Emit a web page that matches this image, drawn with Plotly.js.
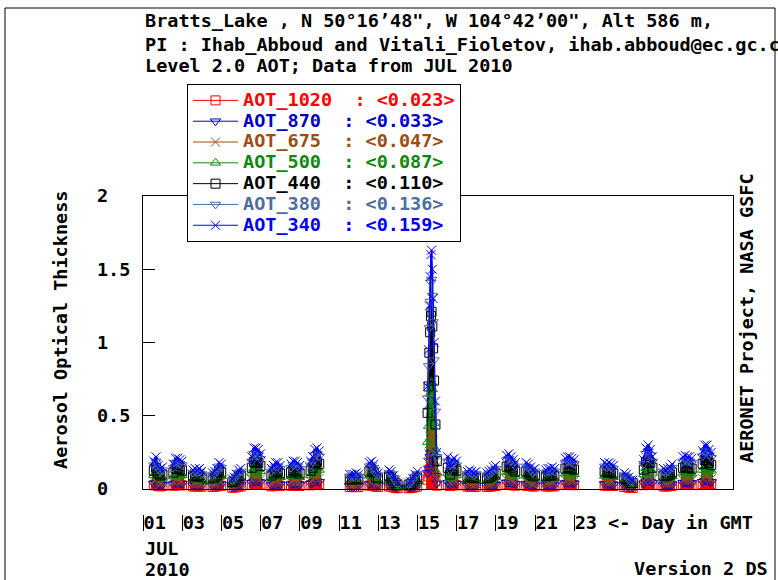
<!DOCTYPE html>
<html>
<head>
<meta charset="utf-8">
<script src="https://cdn.plot.ly/plotly-3.0.1.min.js"></script>
<style>
  html, body { margin: 0; padding: 0; background: #fff; }
  #chart { width: 778px; height: 580px; }
  /* legend rows are laid out with a small font size, glyphs drawn larger */
  .legendtext { font-size: 18.5px !important; }
</style>
</head>
<body>
<div id="chart"></div>
<script>
// Bratts_Lake AERONET Level 2.0 AOT, July 2010.
// Every observation day has one value per measurement time; the times are
// the day number plus the fractional GMT offsets below.
const obsDays = [1, 2, 3, 4, 5, 6, 7, 8, 9, 11, 12, 13, 14, 15, 16, 17, 18, 19, 20, 21, 22, 24, 25, 26, 27, 28, 29];
const dayOffsets = [0.55, 0.66, 0.77, 0.88, 0.99];
const jul15Offsets = [0.52, 0.57, 0.61, 0.65, 0.69, 0.72, 0.76, 0.80, 0.85, 0.92, 0.99];

const aot340 = [
  [0.19, 0.22, 0.16, 0.14, 0.15],
  [0.17, 0.21, 0.21, 0.20, 0.19],
  [0.13, 0.14, 0.13, 0.14, 0.12],
  [0.11, 0.12, 0.14, 0.18, 0.17],
  [0.07, 0.08, 0.10, 0.13, 0.14],
  [0.22, 0.28, 0.28, 0.27, 0.24],
  [0.14, 0.16, 0.18, 0.18, 0.16],
  [0.17, 0.19, 0.19, 0.18, 0.16],
  [0.19, 0.22, 0.27, 0.28, 0.26],
  [0.10, 0.10, 0.10, 0.11, 0.10],
  [0.18, 0.19, 0.17, 0.12, 0.11],
  [0.13, 0.12, 0.09, 0.06, 0.04],
  [0.04, 0.05, 0.07, 0.10, 0.12],
  [0.70, 0.95, 1.25, 1.45, 1.60, 1.63, 1.50, 1.30, 1.00, 0.60, 0.25],
  [0.22, 0.15, 0.20, 0.21, 0.19],
  [0.12, 0.13, 0.12, 0.11, 0.12],
  [0.11, 0.12, 0.13, 0.15, 0.16],
  [0.23, 0.24, 0.22, 0.20, 0.18],
  [0.18, 0.17, 0.15, 0.13, 0.14],
  [0.13, 0.14, 0.14, 0.15, 0.14],
  [0.21, 0.22, 0.22, 0.21, 0.20],
  [0.18, 0.17, 0.18, 0.17, 0.16],
  [0.11, 0.10, 0.08, 0.06, 0.06],
  [0.20, 0.28, 0.30, 0.27, 0.22],
  [0.14, 0.13, 0.14, 0.15, 0.17],
  [0.22, 0.23, 0.22, 0.22, 0.21],
  [0.26, 0.30, 0.30, 0.27, 0.25]
];

const aot380 = [
  [0.163, 0.189, 0.138, 0.120, 0.129],
  [0.146, 0.181, 0.181, 0.172, 0.163],
  [0.112, 0.120, 0.112, 0.120, 0.103],
  [0.095, 0.103, 0.120, 0.155, 0.146],
  [0.060, 0.069, 0.086, 0.112, 0.120],
  [0.189, 0.241, 0.241, 0.232, 0.206],
  [0.120, 0.138, 0.155, 0.155, 0.138],
  [0.146, 0.163, 0.163, 0.155, 0.138],
  [0.163, 0.189, 0.232, 0.241, 0.224],
  [0.086, 0.086, 0.086, 0.095, 0.086],
  [0.155, 0.163, 0.146, 0.103, 0.095],
  [0.112, 0.103, 0.077, 0.052, 0.034],
  [0.034, 0.043, 0.060, 0.086, 0.103],
  [0.62, 0.84, 1.10, 1.28, 1.41, 1.43, 1.32, 1.14, 0.88, 0.53, 0.22],
  [0.189, 0.129, 0.172, 0.181, 0.163],
  [0.103, 0.112, 0.103, 0.095, 0.103],
  [0.095, 0.103, 0.112, 0.129, 0.138],
  [0.198, 0.206, 0.189, 0.172, 0.155],
  [0.155, 0.146, 0.129, 0.112, 0.120],
  [0.112, 0.120, 0.120, 0.129, 0.120],
  [0.181, 0.189, 0.189, 0.181, 0.172],
  [0.155, 0.146, 0.155, 0.146, 0.138],
  [0.095, 0.086, 0.069, 0.052, 0.052],
  [0.172, 0.241, 0.258, 0.232, 0.189],
  [0.120, 0.112, 0.120, 0.129, 0.146],
  [0.189, 0.198, 0.189, 0.189, 0.181],
  [0.224, 0.258, 0.258, 0.232, 0.215]
];

const aot440 = [
  [0.125, 0.145, 0.106, 0.092, 0.099],
  [0.112, 0.139, 0.139, 0.132, 0.125],
  [0.086, 0.092, 0.086, 0.092, 0.079],
  [0.073, 0.079, 0.092, 0.119, 0.112],
  [0.046, 0.053, 0.066, 0.086, 0.092],
  [0.145, 0.185, 0.185, 0.178, 0.158],
  [0.092, 0.106, 0.119, 0.119, 0.106],
  [0.112, 0.125, 0.125, 0.119, 0.106],
  [0.125, 0.145, 0.178, 0.185, 0.172],
  [0.066, 0.066, 0.066, 0.073, 0.066],
  [0.119, 0.125, 0.112, 0.079, 0.073],
  [0.086, 0.079, 0.059, 0.040, 0.026],
  [0.026, 0.033, 0.046, 0.066, 0.079],
  [0.52, 0.70, 0.93, 1.07, 1.18, 1.21, 1.11, 0.96, 0.74, 0.44, 0.19],
  [0.145, 0.099, 0.132, 0.139, 0.125],
  [0.079, 0.086, 0.079, 0.073, 0.079],
  [0.073, 0.079, 0.086, 0.099, 0.106],
  [0.152, 0.158, 0.145, 0.132, 0.119],
  [0.119, 0.112, 0.099, 0.086, 0.092],
  [0.086, 0.092, 0.092, 0.099, 0.092],
  [0.139, 0.145, 0.145, 0.139, 0.132],
  [0.119, 0.112, 0.119, 0.112, 0.106],
  [0.073, 0.066, 0.053, 0.040, 0.040],
  [0.132, 0.185, 0.198, 0.178, 0.145],
  [0.092, 0.086, 0.092, 0.099, 0.112],
  [0.145, 0.152, 0.145, 0.145, 0.139],
  [0.172, 0.198, 0.198, 0.178, 0.165]
];

const aot500 = [
  [0.095, 0.110, 0.080, 0.070, 0.075],
  [0.085, 0.105, 0.105, 0.100, 0.095],
  [0.065, 0.070, 0.065, 0.070, 0.060],
  [0.055, 0.060, 0.070, 0.090, 0.085],
  [0.035, 0.040, 0.050, 0.065, 0.070],
  [0.110, 0.140, 0.140, 0.135, 0.120],
  [0.070, 0.080, 0.090, 0.090, 0.080],
  [0.085, 0.095, 0.095, 0.090, 0.080],
  [0.095, 0.110, 0.135, 0.140, 0.130],
  [0.050, 0.050, 0.050, 0.055, 0.050],
  [0.090, 0.095, 0.085, 0.060, 0.055],
  [0.065, 0.060, 0.045, 0.030, 0.020],
  [0.020, 0.025, 0.035, 0.050, 0.060],
  [0.32, 0.43, 0.56, 0.65, 0.72, 0.73, 0.68, 0.59, 0.45, 0.27, 0.11],
  [0.110, 0.075, 0.100, 0.105, 0.095],
  [0.060, 0.065, 0.060, 0.055, 0.060],
  [0.055, 0.060, 0.065, 0.075, 0.080],
  [0.115, 0.120, 0.110, 0.100, 0.090],
  [0.090, 0.085, 0.075, 0.065, 0.070],
  [0.065, 0.070, 0.070, 0.075, 0.070],
  [0.105, 0.110, 0.110, 0.105, 0.100],
  [0.090, 0.085, 0.090, 0.085, 0.080],
  [0.055, 0.050, 0.040, 0.030, 0.030],
  [0.100, 0.140, 0.150, 0.135, 0.110],
  [0.070, 0.065, 0.070, 0.075, 0.085],
  [0.110, 0.115, 0.110, 0.110, 0.105],
  [0.130, 0.150, 0.150, 0.135, 0.125]
];

const aot675 = [
  [0.053, 0.062, 0.045, 0.039, 0.042],
  [0.048, 0.059, 0.059, 0.056, 0.053],
  [0.036, 0.039, 0.036, 0.039, 0.034],
  [0.031, 0.034, 0.039, 0.050, 0.048],
  [0.020, 0.022, 0.028, 0.036, 0.039],
  [0.062, 0.078, 0.078, 0.076, 0.067],
  [0.039, 0.045, 0.050, 0.050, 0.045],
  [0.048, 0.053, 0.053, 0.050, 0.045],
  [0.053, 0.062, 0.076, 0.078, 0.073],
  [0.028, 0.028, 0.028, 0.031, 0.028],
  [0.050, 0.053, 0.048, 0.034, 0.031],
  [0.036, 0.034, 0.025, 0.017, 0.011],
  [0.011, 0.014, 0.020, 0.028, 0.034],
  [0.18, 0.24, 0.31, 0.36, 0.40, 0.41, 0.38, 0.33, 0.25, 0.15, 0.063],
  [0.062, 0.042, 0.056, 0.059, 0.053],
  [0.034, 0.036, 0.034, 0.031, 0.034],
  [0.031, 0.034, 0.036, 0.042, 0.045],
  [0.064, 0.067, 0.062, 0.056, 0.050],
  [0.050, 0.048, 0.042, 0.036, 0.039],
  [0.036, 0.039, 0.039, 0.042, 0.039],
  [0.059, 0.062, 0.062, 0.059, 0.056],
  [0.050, 0.048, 0.050, 0.048, 0.045],
  [0.031, 0.028, 0.022, 0.017, 0.017],
  [0.056, 0.078, 0.084, 0.076, 0.062],
  [0.039, 0.036, 0.039, 0.042, 0.048],
  [0.062, 0.064, 0.062, 0.062, 0.059],
  [0.073, 0.084, 0.084, 0.076, 0.070]
];

const aot870 = [
  [0.036, 0.042, 0.030, 0.027, 0.029],
  [0.032, 0.040, 0.040, 0.038, 0.036],
  [0.025, 0.027, 0.025, 0.027, 0.023],
  [0.021, 0.023, 0.027, 0.034, 0.032],
  [0.013, 0.015, 0.019, 0.025, 0.027],
  [0.042, 0.053, 0.053, 0.051, 0.046],
  [0.027, 0.030, 0.034, 0.034, 0.030],
  [0.032, 0.036, 0.036, 0.034, 0.030],
  [0.036, 0.042, 0.051, 0.053, 0.049],
  [0.019, 0.019, 0.019, 0.021, 0.019],
  [0.034, 0.036, 0.032, 0.023, 0.021],
  [0.025, 0.023, 0.017, 0.011, 0.008],
  [0.008, 0.010, 0.013, 0.019, 0.023],
  [0.11, 0.14, 0.19, 0.22, 0.24, 0.25, 0.23, 0.20, 0.15, 0.09, 0.038],
  [0.042, 0.029, 0.038, 0.040, 0.036],
  [0.023, 0.025, 0.023, 0.021, 0.023],
  [0.021, 0.023, 0.025, 0.029, 0.030],
  [0.044, 0.046, 0.042, 0.038, 0.034],
  [0.034, 0.032, 0.029, 0.025, 0.027],
  [0.025, 0.027, 0.027, 0.029, 0.027],
  [0.040, 0.042, 0.042, 0.040, 0.038],
  [0.034, 0.032, 0.034, 0.032, 0.030],
  [0.021, 0.019, 0.015, 0.011, 0.011],
  [0.038, 0.053, 0.057, 0.051, 0.042],
  [0.027, 0.025, 0.027, 0.029, 0.032],
  [0.042, 0.044, 0.042, 0.042, 0.040],
  [0.049, 0.057, 0.057, 0.051, 0.048]
];

const aot1020 = [
  [0.025, 0.029, 0.021, 0.018, 0.020],
  [0.022, 0.027, 0.027, 0.026, 0.025],
  [0.017, 0.018, 0.017, 0.018, 0.016],
  [0.014, 0.016, 0.018, 0.023, 0.022],
  [0.009, 0.010, 0.013, 0.017, 0.018],
  [0.029, 0.036, 0.036, 0.035, 0.031],
  [0.018, 0.021, 0.023, 0.023, 0.021],
  [0.022, 0.025, 0.025, 0.023, 0.021],
  [0.025, 0.029, 0.035, 0.036, 0.034],
  [0.013, 0.013, 0.013, 0.014, 0.013],
  [0.023, 0.025, 0.022, 0.016, 0.014],
  [0.017, 0.016, 0.012, 0.008, 0.005],
  [0.005, 0.007, 0.009, 0.013, 0.016],
  [0.063, 0.086, 0.11, 0.13, 0.14, 0.15, 0.14, 0.12, 0.09, 0.054, 0.023],
  [0.029, 0.020, 0.026, 0.027, 0.025],
  [0.016, 0.017, 0.016, 0.014, 0.016],
  [0.014, 0.016, 0.017, 0.020, 0.021],
  [0.030, 0.031, 0.029, 0.026, 0.023],
  [0.023, 0.022, 0.020, 0.017, 0.018],
  [0.017, 0.018, 0.018, 0.020, 0.018],
  [0.027, 0.029, 0.029, 0.027, 0.026],
  [0.023, 0.022, 0.023, 0.022, 0.021],
  [0.014, 0.013, 0.010, 0.008, 0.008],
  [0.026, 0.036, 0.039, 0.035, 0.029],
  [0.018, 0.017, 0.018, 0.020, 0.022],
  [0.029, 0.030, 0.029, 0.029, 0.027],
  [0.034, 0.039, 0.039, 0.035, 0.033]
];

// legend labels with the monthly mean of each wavelength
const seriesNames = ['AOT_1020', 'AOT_870', 'AOT_675', 'AOT_500', 'AOT_440', 'AOT_380', 'AOT_340'];
const seriesMeans = ['0.023', '0.033', '0.047', '0.087', '0.110', '0.136', '0.159'];

const dayTickVals = [1, 3, 5, 7, 9, 11, 13, 15, 17, 19, 21, 23];
const dayTickText = ['01', '03', '05', '07', '09', '11', '13', '15', '17', '19', '21', '23'];
const aotTickVals = [0, 0.5, 1, 1.5, 2];
const aotTickText = ['0', '0.5', '1', '1.5', '2'];

// ---- drawing ----
const MONO = '"DejaVu Sans Mono", "Liberation Mono", monospace';
const FS = 18.5;
// span covered by one measurement (in days)
const dayBinWidth = 0.11;
const jul15BinWidth = 0.045;

const series = [
  {vals: aot1020, color: '#ff0000', symbol: 'square-open'},
  {vals: aot870,  color: '#0000c8', symbol: 'triangle-down-open'},
  {vals: aot675,  color: '#9a4e12', symbol: 'x-thin-open'},
  {vals: aot500,  color: '#0e880e', symbol: 'triangle-up-open'},
  {vals: aot440,  color: '#000000', symbol: 'square-open'},
  {vals: aot380,  color: '#4d6d9e', symbol: 'triangle-down-open'},
  {vals: aot340,  color: '#0000ff', symbol: 'x-thin-open'}
];

function dayTimes(i) {
  const d = obsDays[i];
  const offs = d === 15 ? jul15Offsets : dayOffsets;
  return offs.map(o => d + o);
}

function flat(vals) {
  const xs = [], ys = [];
  vals.forEach((row, i) => {
    const t = dayTimes(i);
    row.forEach((v, j) => { xs.push(t[j]); ys.push(v); });
    xs.push(null); ys.push(null);   // break between days
  });
  return {xs, ys};
}

const traces = [];

// measurement points and connecting lines
series.forEach((s, k) => {
  const f = flat(s.vals);
  const label = seriesNames[k] + '\u00a0\u00a0: &lt;' + seriesMeans[k] + '&gt;';
  traces.push({
    type: 'scatter', mode: 'lines+markers', x: f.xs, y: f.ys,
    name: '<span style="color:' + s.color + '">' + label + '</span>',
    line: {color: s.color, width: 1},
    marker: {symbol: s.symbol, size: 9, color: s.color, line: {color: s.color, width: 1}},
    cliponaxis: false, connectgaps: false
  });
});

// carrier for the day marks under the axis
traces.push({type: 'scatter', x: [], y: [], xaxis: 'x2', yaxis: 'y', showlegend: false, hoverinfo: 'skip'});

// dense daily clusters: the span under each wavelength in axis units,
// stacked from 340 nm down to 1020 nm beneath the points
const clusterShapes = [];
[6, 4, 3, 2, 0].forEach(k => {
  const s = series[k];
  s.vals.forEach((row, i) => {
    const t = dayTimes(i);
    const w = obsDays[i] === 15 ? jul15BinWidth : dayBinWidth;
    row.forEach((v, j) => {
      clusterShapes.push({
        type: 'rect', xref: 'x', yref: 'y', layer: 'below',
        x0: t[j] - w / 2, x1: t[j] + w / 2, y0: 0, y1: v,
        fillcolor: s.color, line: {color: s.color, width: 1}
      });
    });
  });
});

const L = 143, R = 733, T = 196, PB = 530, AX = 489;
const px = v => (v - L) / (R - L);
const py = v => (PB - v) / (PB - T);
const fnt = {family: MONO, size: FS, color: '#000', weight: 'bold'};

function ann(text, x, y, xanchor, angle) {
  return {text, x: px(x), y: py(y), xref: 'paper', yref: 'paper',
          xanchor, yanchor: 'middle', showarrow: false, font: fnt,
          textangle: angle || 0};
}

const layout = {
  width: 778, height: 580,
  margin: {l: L, r: 778 - R, t: T, b: 580 - PB, pad: 0},
  paper_bgcolor: '#ffffff', plot_bgcolor: '#ffffff',
  font: fnt,
  showlegend: true,
  xaxis: {
    range: [1, 31.1], tickmode: 'array', tickvals: dayTickVals, ticktext: dayTickText,
    ticks: '', showgrid: false, zeroline: false,
    showline: true, mirror: true, linecolor: '#000', linewidth: 1,
    ticklabelposition: 'outside right', ticklabelstandoff: 17, tickfont: fnt
  },
  xaxis2: {
    overlaying: 'x', anchor: 'free', position: (PB - 514) / (PB - T),
    range: [1, 31.1], tickmode: 'array', tickvals: dayTickVals,
    ticks: 'outside', ticklen: 16, tickwidth: 1, tickcolor: '#000',
    showticklabels: false, showline: false, showgrid: false, zeroline: false
  },
  yaxis: {
    domain: [(PB - AX) / (PB - T), 1],
    range: [0, 2], tickmode: 'array', tickvals: aotTickVals,
    ticktext: aotTickText.map(t => t.padEnd(3, '\u00a0')),
    ticks: 'inside', ticklen: 12, tickwidth: 1, tickcolor: '#000',
    showline: true, mirror: true, linecolor: '#000', linewidth: 1,
    showgrid: false, zeroline: false, ticklabelstandoff: 8, tickfont: fnt
  },
  legend: {
    x: px(187), y: py(84), xanchor: 'left', yanchor: 'top',
    bgcolor: '#ffffff', bordercolor: '#000', borderwidth: 1,
    font: {family: MONO, size: 13.7, color: '#000', weight: 'bold'},
    itemwidth: 45, itemsizing: 'trace', traceorder: 'normal'
  },
  annotations: [
    ann('Bratts_Lake , N 50°16’48", W 104°42’00", Alt 586 m,', 143, 20, 'left'),
    ann('PI : Ihab_Abboud and Vitali_Fioletov, ihab.abboud@ec.gc.ca', 143, 44, 'left'),
    ann('Level 2.0 AOT; Data from JUL 2010', 143, 65, 'left'),
    ann('Aerosol Optical Thickness', 60, 330, 'center', -90),
    ann('AERONET Project, NASA GSFC', 746, 318, 'center', -90),
    ann('&lt;- Day in GMT', 606, 522, 'left'),
    ann('JUL', 143, 548, 'left'),
    ann('2010', 143, 569, 'left'),
    ann('Version 2 DS', 770, 568, 'right')
  ],
  shapes: clusterShapes.concat([{
    type: 'rect', xref: 'paper', yref: 'paper',
    x0: px(5), x1: px(775), y0: py(600), y1: py(8),
    line: {color: '#000', width: 1}, fillcolor: 'rgba(0,0,0,0)'
  }])
};

Plotly.newPlot('chart', traces, layout, {staticPlot: true, displayModeBar: false});
</script>
</body>
</html>
